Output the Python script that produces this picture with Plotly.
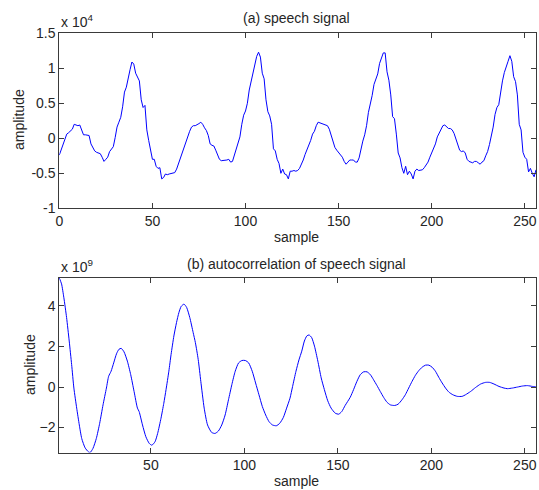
import plotly.graph_objects as go

W, H = 539, 490

# (a) speech signal, values in units of 1e4
speech_x = list(range(0, 257))
speech_e4 = [
    -0.24, -0.17, -0.10, -0.02, 0.06, 0.08, 0.10, 0.13, 0.20, 0.19,
    0.18, 0.19, 0.13, 0.05, 0.05, 0.04, 0.04, -0.08, -0.13, -0.18,
    -0.20, -0.21, -0.22, -0.27, -0.33, -0.30, -0.27, -0.19, -0.15, -0.12,
    0.01, 0.16, 0.23, 0.30, 0.45, 0.66, 0.73, 0.87, 0.98, 1.09,
    1.06, 0.93, 0.88, 0.82, 0.55, 0.44, 0.47, 0.12, -0.03, -0.15,
    -0.30, -0.30, -0.40, -0.43, -0.42, -0.58, -0.56, -0.51, -0.52, -0.51,
    -0.50, -0.50, -0.49, -0.44, -0.36, -0.28, -0.22, -0.15, -0.06, 0.02,
    0.10, 0.16, 0.18, 0.18, 0.19, 0.21, 0.23, 0.20, 0.15, 0.11,
    0.04, -0.08, -0.10, -0.11, -0.17, -0.25, -0.30, -0.32, -0.32, -0.32,
    -0.31, -0.30, -0.34, -0.33, -0.25, -0.16, -0.08, 0.02, 0.20, 0.33,
    0.39, 0.50, 0.69, 0.80, 0.93, 1.06, 1.17, 1.23, 1.16, 0.93,
    0.85, 0.55, 0.38, 0.32, 0.20, -0.15, -0.18, -0.30, -0.36, -0.50,
    -0.44, -0.51, -0.52, -0.58, -0.47, -0.47, -0.46, -0.47, -0.46, -0.43,
    -0.38, -0.31, -0.23, -0.17, -0.11, -0.03, 0.06, 0.10, 0.18, 0.23,
    0.22, 0.21, 0.20, 0.19, 0.18, 0.13, 0.05, -0.06, -0.13, -0.17,
    -0.20, -0.23, -0.27, -0.33, -0.37, -0.34, -0.31, -0.31, -0.31, -0.34,
    -0.34, -0.28, -0.15, -0.04, 0.05, 0.18, 0.37, 0.47, 0.61, 0.77,
    0.84, 0.92, 1.07, 1.16, 1.22, 1.22, 0.95, 0.83, 0.62, 0.31,
    0.28, 0.06, -0.21, -0.28, -0.42, -0.50, -0.40, -0.52, -0.47, -0.51,
    -0.58, -0.47, -0.44, -0.46, -0.45, -0.45, -0.42, -0.38, -0.34, -0.27,
    -0.20, -0.16, -0.08, 0.02, 0.07, 0.13, 0.18, 0.19, 0.16, 0.14,
    0.14, 0.12, 0.07, -0.01, -0.10, -0.17, -0.19, -0.18, -0.21, -0.30,
    -0.33, -0.34, -0.35, -0.33, -0.33, -0.35, -0.37, -0.34, -0.32, -0.25,
    -0.19, -0.09, 0.03, 0.16, 0.34, 0.44, 0.48, 0.68, 0.82, 0.94,
    1.04, 1.10, 1.18, 1.10, 0.88, 0.81, 0.62, 0.20, 0.12, -0.20,
    -0.27, -0.30, -0.48, -0.43, -0.50, -0.55, -0.45,
]

# (b) autocorrelation, values in units of 1e9
acf_x = [
    1, 2.2, 3.4, 4.9, 6.3, 7.6, 8.8, 10.3, 11.7, 13, 14.8, 16.6, 17.5, 19,
    20.8, 22.6, 24.4, 26.2, 27.4, 28.7, 30.1, 31.6, 32.9, 34.1, 35.6, 37.4,
    39.2, 41, 42.8, 43.7, 45.5, 47.3, 49.1, 50.5, 52.2, 53.6, 55.4, 56.9,
    58.1, 59.6, 60.8, 62.3, 63.7, 65, 66.2, 67.7, 69.1, 70.8, 72.6, 73.8,
    75.3, 76.7, 78.5, 80.3, 82.5, 84.3, 86.1, 87.9, 89.7, 91.5, 93.3, 95.1,
    96.9, 98.7, 100.5, 102.3, 104.2, 106, 107.8, 109.6, 111.4, 113.2, 115,
    117.1, 118.9, 120.8, 122.6, 124.4, 125.8, 127.6, 129.2, 130.7, 132.1,
    133.4, 134.6, 136, 137.5, 139.3, 141.1, 142.8, 144.6, 146.4, 148.6,
    150.4, 152.1, 153.9, 156.6, 158.4, 160.2, 162, 163.8, 165.6, 167.4,
    169.1, 170.9, 172.7, 174.5, 176.3, 178.1, 180.4, 182.2, 184.3, 186.1,
    187.9, 189.7, 191.5, 193.3, 195.1, 196.9, 198.7, 200.4, 202.2, 204,
    205.8, 207.6, 209.4, 211.5, 213.9, 216.5, 218.3, 221, 223.7, 226.4,
    229, 231.2, 233.5, 236.2, 238.9, 240.7, 243.4, 246.1, 248.8, 251.4,
    254.1, 256,
]
acf_e9 = [
    5.38, 5.09, 4.43, 3.43, 2.27, 1.11, -0.05, -1.04, -1.87, -2.54, -3.00,
    -3.20, -3.23, -3.03, -2.54, -1.79, -0.88, -0.05, 0.53, 0.78, 1.19, 1.64,
    1.86, 1.91, 1.74, 1.28, 0.61, -0.22, -1.04, -1.21, -1.87, -2.45, -2.78,
    -2.87, -2.70, -2.29, -1.54, -0.80, -0.13, 0.78, 1.61, 2.52, 3.18, 3.68,
    3.98, 4.09, 3.93, 3.43, 2.69, 2.19, 1.36, 0.28, -1.04, -1.87, -2.24,
    -2.29, -2.17, -1.87, -1.38, -0.63, 0.12, 0.78, 1.19, 1.31, 1.31, 1.19,
    0.78, 0.20, -0.38, -0.96, -1.38, -1.71, -1.87, -1.91, -1.79, -1.51,
    -1.04, -0.55, 0.03, 0.78, 1.34, 1.77, 2.27, 2.52, 2.57, 2.44, 2.02, 1.28,
    0.45, -0.13, -0.68, -1.04, -1.29, -1.34, -1.21, -0.91, -0.51, -0.13,
    0.28, 0.61, 0.75, 0.75, 0.61, 0.36, 0.08, -0.22, -0.51, -0.75, -0.88,
    -0.91, -0.85, -0.63, -0.38, -0.05, 0.28, 0.58, 0.81, 0.98, 1.08, 1.08,
    0.98, 0.78, 0.48, 0.20, -0.05, -0.25, -0.38, -0.46, -0.46, -0.38, -0.22,
    -0.02, 0.15, 0.23, 0.23, 0.15, 0.03, -0.05, -0.08, -0.05, 0.00, 0.05,
    0.07, 0.03, 0.00,
]

top_yticks = [-1, -0.5, 0, 0.5, 1, 1.5]
top_yticktext = ["-1", "-0.5", "0", "0.5", "1", "1.5"]
top_xticks = [0, 50, 100, 150, 200, 250]
bot_yticks = [-2, 0, 2, 4]
bot_xticks = [50, 100, 150, 200, 250]

FONT = "Liberation Sans, Arial, sans-serif"
TXT = "#262626"
AX = "#3a3a3a"
BLUE = "#0000ff"

def px(x):
    return x / W

def py(y):
    return 1 - y / H

fig = go.Figure()
fig.add_trace(go.Scatter(x=speech_x, y=speech_e4, mode="lines",
                         line=dict(color=BLUE, width=1), xaxis="x", yaxis="y",
                         showlegend=False))
fig.add_trace(go.Scatter(x=acf_x, y=acf_e9, mode="lines",
                         line=dict(color=BLUE, width=1, shape="spline", smoothing=0.6),
                         xaxis="x2", yaxis="y2", showlegend=False))

axis_common = dict(showline=True, linecolor=AX, linewidth=1, mirror="ticks",
                   ticks="inside", ticklen=5, tickcolor=AX, showgrid=False,
                   zeroline=False, automargin=False,
                   tickfont=dict(family=FONT, size=14, color=TXT))

fig.update_layout(
    template="none",
    width=W, height=H,
    margin=dict(l=0, r=0, t=0, b=0, pad=0),
    paper_bgcolor="white", plot_bgcolor="white",
    font=dict(family=FONT, size=14, color=TXT),
    xaxis=dict(domain=[px(59.3), px(536)], range=[0, 256], tickvals=top_xticks,
               anchor="y", **axis_common),
    yaxis=dict(domain=[py(208.3), py(33.3)], range=[-1, 1.5], tickvals=top_yticks,
               ticktext=top_yticktext, anchor="x", **axis_common),
    xaxis2=dict(domain=[px(59.3), px(536)], range=[1, 256], tickvals=bot_xticks,
                anchor="y2", **axis_common),
    yaxis2=dict(domain=[py(452.5), py(278)], range=[min(acf_e9), max(acf_e9)],
                tickvals=bot_yticks, anchor="x2", **axis_common),
)

ann = [
    dict(text="(a) speech signal", x=px(297), y=py(18)),
    dict(text="sample", x=px(297), y=py(237)),
    dict(text="amplitude", x=px(19), y=py(120), textangle=-90),
    dict(text="x 10<sup>4</sup>", x=px(59), y=py(21), xanchor="left"),
    dict(text="(b) autocorrelation of speech signal", x=px(297), y=py(264)),
    dict(text="sample", x=px(297), y=py(481)),
    dict(text="amplitude", x=px(30), y=py(365), textangle=-90),
    dict(text="x 10<sup>9</sup>", x=px(59), y=py(266), xanchor="left"),
]
for a in ann:
    base = dict(xref="paper", yref="paper", showarrow=False,
                font=dict(family=FONT, size=14, color=TXT),
                xanchor="center", yanchor="middle")
    base.update(a)
    fig.add_annotation(**base)

fig.write_html(
    "out.html",
    config={"displayModeBar": False},
    post_script="document.body.style.margin='0px';document.body.style.overflow='hidden';",
)
